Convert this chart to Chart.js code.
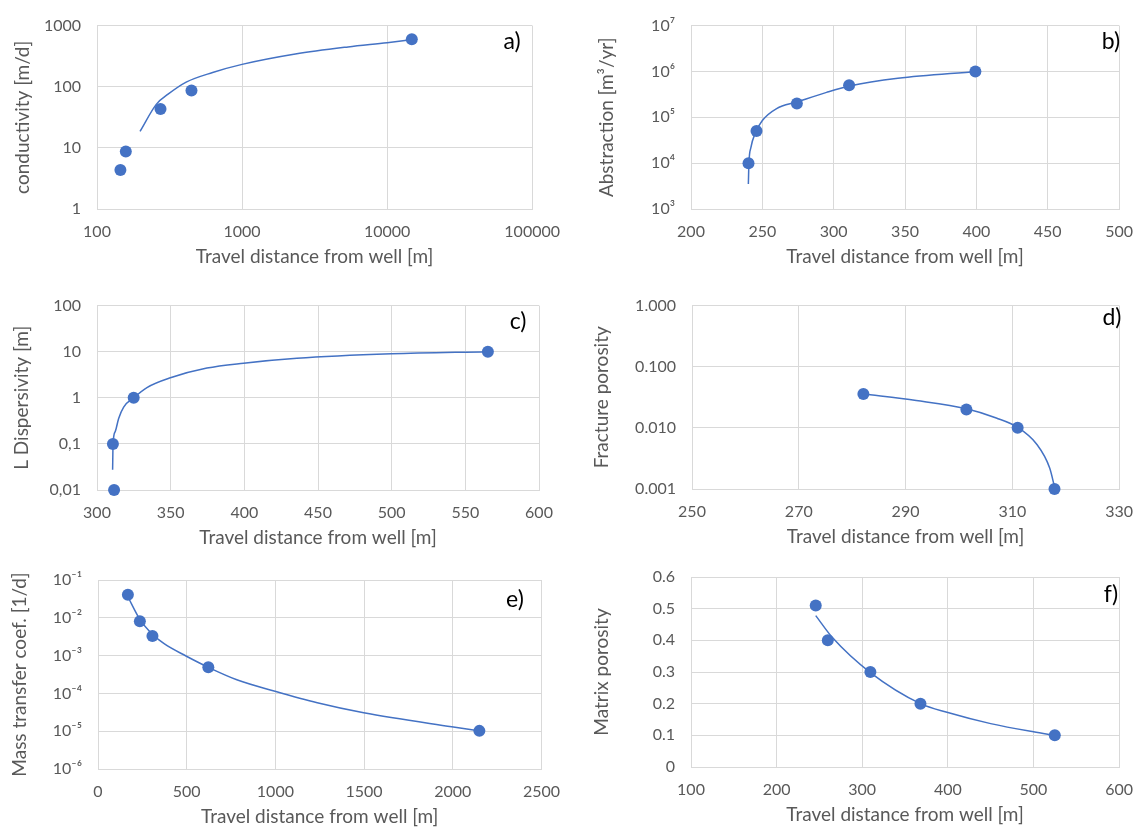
<!DOCTYPE html>
<html>
<head>
<meta charset="utf-8">
<script src="https://cdn.jsdelivr.net/npm/chart.js"></script>
<style>
    body { margin: 0; background: #fff; width: 1146px; height: 827px; position: relative; overflow: hidden; }
    canvas { position: absolute; }
</style>
</head>
<body>
<canvas id="chartA" style="left:0;top:0"></canvas>
<canvas id="chartB" style="left:573px;top:0"></canvas>
<canvas id="chartC" style="left:0;top:280px"></canvas>
<canvas id="chartD" style="left:573px;top:280px"></canvas>
<canvas id="chartE" style="left:0;top:550px"></canvas>
<canvas id="chartF" style="left:573px;top:550px"></canvas>
<script>
// ============================================================
// data
// ============================================================
// a) hydraulic conductivity
const aPtX = [145, 158, 274, 448, 14800];
const aPtY = [4.35, 8.7, 43.2, 86.5, 600];
const aFitX = [198, 257, 309, 412, 627, 1000, 2330, 5380, 10000, 14600];
const aFitY = [18.6, 52, 75.5, 119, 171, 232, 343, 448, 525, 585];
const aXTicks = [100, 1000, 10000, 100000];
const aXLabels = ['100', '1000', '10000', '100000'];
const aYTicks = [1, 10, 100, 1000];
const aYLabels = ['1', '10', '100', '1000'];

// b) abstraction
const bPtX = [240.3, 245.9, 274.2, 310.8, 399.3];
const bPtY = [10000, 50000, 200000, 500000, 1000000];
const bFitX = [240.2, 240.6, 242, 245, 250, 260, 274, 295, 311, 345, 400];
const bFitY = [3500, 10000, 22000, 45000, 85000, 155000, 215000, 350000, 480000, 710000, 1000000];
const bXTicks = [200, 250, 300, 350, 400, 450, 500];
const bXLabels = ['200', '250', '300', '350', '400', '450', '500'];
const bYTicks = [1e3, 1e4, 1e5, 1e6, 1e7];
const bYLabels = ['10³', '10⁴', '10⁵', '10⁶', '10⁷'];

// c) longitudinal dispersivity
const cPtX = [310.8, 311.6, 324.9, 565.3];
const cPtY = [0.1, 0.01, 1, 10];
const cFitX = [310.6, 310.9, 312.4, 314.7, 318.1, 324.9, 333.9, 349.8, 374.6, 399.5, 435.7, 500, 565];
const cFitY = [0.0274, 0.1, 0.186, 0.356, 0.63, 1, 1.67, 2.72, 4.42, 5.64, 7.2, 9.0, 10];
const cXTicks = [300, 350, 400, 450, 500, 550, 600];
const cXLabels = ['300', '350', '400', '450', '500', '550', '600'];
const cYTicks = [0.01, 0.1, 1, 10, 100];
const cYLabels = ['0,01', '0,1', '1', '10', '100'];

// d) fracture porosity
const dPtX = [282.1, 301.4, 311.0, 317.9];
const dPtY = [0.0357, 0.02, 0.01, 0.001];
const dFitX = [282, 292, 301.4, 307, 311, 314.5, 317, 318];
const dFitY = [0.036, 0.028, 0.0205, 0.0145, 0.0102, 0.0055, 0.0022, 0.001];
const dXTicks = [250, 270, 290, 310, 330];
const dXLabels = ['250', '270', '290', '310', '330'];
const dYTicks = [0.001, 0.01, 0.1, 1];
const dYLabels = ['0.001', '0.010', '0.100', '1.000'];

// e) mass transfer coefficient
const ePtX = [168.5, 236, 307, 622, 2150];
const ePtY = [0.0408, 0.0081, 0.0033, 0.00049, 0.0000102];
const eFitX = [168.5, 236, 307, 374.7, 496, 622, 786.5, 992.6, 1236, 1498, 1994, 2150];
const eFitY = [0.036, 0.0091, 0.00366, 0.00203, 0.000976, 0.00049, 0.000226, 0.000116, 0.0000567, 0.0000308, 0.0000131, 0.0000102];
const eXTicks = [0, 500, 1000, 1500, 2000, 2500];
const eXLabels = ['0', '500', '1000', '1500', '2000', '2500'];
const eYTicks = [1e-6, 1e-5, 1e-4, 1e-3, 1e-2, 1e-1];
const eYLabels = ['10⁻⁶', '10⁻⁵', '10⁻⁴', '10⁻³', '10⁻²', '10⁻¹'];

// f) matrix porosity
const fPtX = [245.7, 259.8, 309.5, 368, 524.9];
const fPtY = [0.51, 0.40, 0.30, 0.20, 0.10];
const fFitX = [245.7, 265.7, 309.5, 368, 400, 450, 500, 525];
const fFitY = [0.478, 0.407, 0.298, 0.2, 0.172, 0.137, 0.111, 0.1];
const fXTicks = [100, 200, 300, 400, 500, 600];
const fXLabels = ['100', '200', '300', '400', '500', '600'];
const fYTicks = [0, 0.1, 0.2, 0.3, 0.4, 0.5, 0.6];
const fYLabels = ['0', '0.1', '0.2', '0.3', '0.4', '0.5', '0.6'];

const xTitle = 'Travel distance from well [m]';

// ============================================================
// style
// ============================================================
const BLUE = '#4472C4';
const GRID = '#d9d9d9';
const TEXT = '#595959';
const FONT = "Lato, 'Noto Sans', sans-serif";
const TITLE_SIZE = 19;

const zip = (xs, ys) => xs.map((x, i) => ({ x: x, y: ys[i] }));

// panel label "a)" etc.
const panelLabel = {
    id: 'panelLabel',
    afterDraw(chart, args, opts) {
        const ctx = chart.ctx;
        ctx.save();
        ctx.font = '23px ' + FONT;
        ctx.fillStyle = '#000';
        ctx.textAlign = 'center';
        ctx.textBaseline = 'middle';
        ctx.fillText(opts.text, opts.x, opts.y);
        ctx.restore();
    }
};

function axis(type, ticks, labels, min, max, title, isY, box) {
    const half = TITLE_SIZE * 1.2 / 2;
    return {
        type: type,
        min: min,
        max: max,
        afterBuildTicks: s => { s.ticks = ticks.map(v => ({ value: v })); },
        afterFit: s => {
            if (isY) s.width = box.l;
            else s.height = box.h - box.b;
        },
        ticks: {
            color: TEXT,
            font: { family: FONT, size: 16 },
            padding: isY ? 16 : 13,
            autoSkip: false,
            maxRotation: 0,
            callback: (v, i) => labels[i]
        },
        grid: { color: GRID, lineWidth: 1, drawTicks: false },
        border: { color: GRID },
        title: {
            display: true,
            text: title,
            color: TEXT,
            font: { family: FONT, size: TITLE_SIZE },
            padding: isY ? { top: box.yt - half, bottom: 0 } : { top: 0, bottom: 0 }
        }
    };
}

function makePanel(id, p) {
    const canvas = document.getElementById(id);
    const box = p.box;
    box.h = box.b + 59;
    canvas.width = 573;
    canvas.height = box.h;
    new Chart(canvas, {
        type: 'scatter',
        data: {
            datasets: [
                {
                    data: zip(p.ptX, p.ptY),
                    showLine: false,
                    pointRadius: 6,
                    pointBackgroundColor: BLUE,
                    pointBorderColor: BLUE,
                    pointBorderWidth: 0,
                    clip: false
                },
                {
                    data: zip(p.fitX, p.fitY),
                    showLine: true,
                    borderColor: BLUE,
                    borderWidth: 1.5,
                    pointRadius: 0,
                    cubicInterpolationMode: 'monotone'
                }
            ]
        },
        options: {
            responsive: false,
            animation: false,
            layout: { padding: { left: 0, top: box.t, right: 573 - box.r, bottom: 0 } },
            plugins: {
                legend: { display: false },
                tooltip: { enabled: false },
                panelLabel: p.label
            },
            scales: {
                x: axis(p.xType, p.xTicks, p.xLabels, p.xMin, p.xMax, xTitle, false, box),
                y: axis(p.yType, p.yTicks, p.yLabels, p.yMin, p.yMax, p.yTitle, true, box)
            }
        },
        plugins: [panelLabel]
    });
}

makePanel('chartA', {
    ptX: aPtX, ptY: aPtY, fitX: aFitX, fitY: aFitY,
    xType: 'logarithmic', xTicks: aXTicks, xLabels: aXLabels, xMin: 100, xMax: 100000,
    yType: 'logarithmic', yTicks: aYTicks, yLabels: aYLabels, yMin: 1, yMax: 1000,
    yTitle: 'conductivity [m/d]',
    box: { l: 97, r: 536, t: 20, b: 209, yt: 23 },
    label: { text: 'a)', x: 512, y: 42 }
});
makePanel('chartB', {
    ptX: bPtX, ptY: bPtY, fitX: bFitX, fitY: bFitY,
    xType: 'linear', xTicks: bXTicks, xLabels: bXLabels, xMin: 200, xMax: 500,
    yType: 'logarithmic', yTicks: bYTicks, yLabels: bYLabels, yMin: 1e3, yMax: 1e7,
    yTitle: 'Abstraction [m³/yr]',
    box: { l: 118, r: 558, t: 20, b: 209, yt: 34 },
    label: { text: 'b)', x: 538, y: 42 }
});
makePanel('chartC', {
    ptX: cPtX, ptY: cPtY, fitX: cFitX, fitY: cFitY,
    xType: 'linear', xTicks: cXTicks, xLabels: cXLabels, xMin: 300, xMax: 600,
    yType: 'logarithmic', yTicks: cYTicks, yLabels: cYLabels, yMin: 0.01, yMax: 100,
    yTitle: 'L Dispersivity [m]',
    box: { l: 97, r: 539, t: 21, b: 210, yt: 22 },
    label: { text: 'c)', x: 518, y: 42 }
});
makePanel('chartD', {
    ptX: dPtX, ptY: dPtY, fitX: dFitX, fitY: dFitY,
    xType: 'linear', xTicks: dXTicks, xLabels: dXLabels, xMin: 250, xMax: 330,
    yType: 'logarithmic', yTicks: dYTicks, yLabels: dYLabels, yMin: 0.001, yMax: 1,
    yTitle: 'Fracture porosity',
    box: { l: 119, r: 558, t: 19, b: 209, yt: 29 },
    label: { text: 'd)', x: 539, y: 38 }
});
makePanel('chartE', {
    ptX: ePtX, ptY: ePtY, fitX: eFitX, fitY: eFitY,
    xType: 'linear', xTicks: eXTicks, xLabels: eXLabels, xMin: 0, xMax: 2500,
    yType: 'logarithmic', yTicks: eYTicks, yLabels: eYLabels, yMin: 1e-6, yMax: 1e-1,
    yTitle: 'Mass transfer coef. [1/d]',
    box: { l: 98, r: 543, t: 30, b: 219, yt: 20 },
    label: { text: 'e)', x: 515, y: 50 }
});
makePanel('chartF', {
    ptX: fPtX, ptY: fPtY, fitX: fFitX, fitY: fFitY,
    xType: 'linear', xTicks: fXTicks, xLabels: fXLabels, xMin: 100, xMax: 600,
    yType: 'linear', yTicks: fYTicks, yLabels: fYLabels, yMin: 0, yMax: 0.6,
    yTitle: 'Matrix porosity',
    box: { l: 118, r: 558, t: 27, b: 217, yt: 29 },
    label: { text: 'f)', x: 538, y: 45 }
});
</script>
</body>
</html>
